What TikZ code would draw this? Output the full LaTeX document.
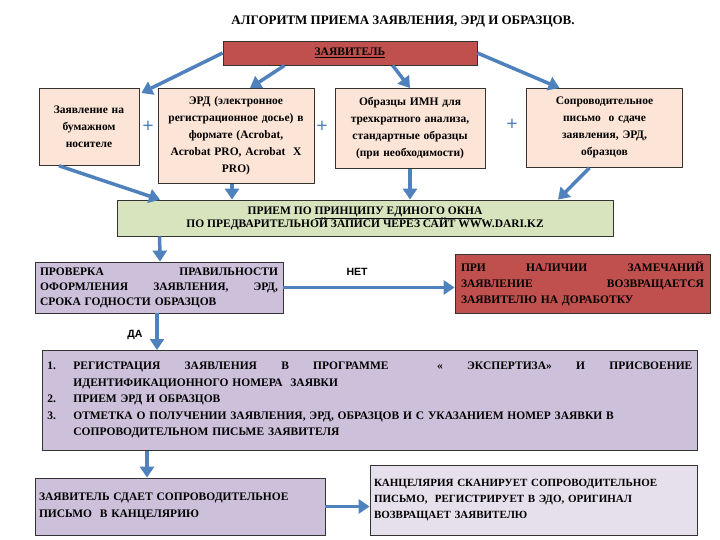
\documentclass[tikz,border=0pt]{standalone}
\usepackage{fontspec}
\setmainfont{Liberation Serif}
\newfontfamily\lsans{Liberation Sans}
\usetikzlibrary{arrows.meta}
\definecolor{redb}{HTML}{C0504D}
\definecolor{peach}{HTML}{FCE4D6}
\definecolor{greenb}{HTML}{D7E4BD}
\definecolor{lav}{HTML}{CCC0DA}
\definecolor{lav2}{HTML}{E6E0EC}
\definecolor{arr}{HTML}{4F81BD}
\begin{document}
\begin{tikzpicture}[x=1pt,y=-1pt,
 bx/.style={draw=black!80,line width=0.8pt,inner sep=3pt,font=\fontsize{11.5}{16}\selectfont\bfseries},
 pk/.style={bx,fill=peach,anchor=north,align=center,font=\fontsize{11.5}{17}\selectfont\bfseries},
 ar/.style={draw=arr,line width=3.5pt,-{Triangle[length=11pt,width=14pt]}},
 pl/.style={text=arr,font=\fontsize{20}{20}\selectfont\bfseries}]
\useasboundingbox (0,0) rectangle (720,540);
\node[font=\fontsize{13}{14}\selectfont\bfseries] (title) at (403,22) {АЛГОРИТМ ПРИЕМА ЗАЯВЛЕНИЯ, ЭРД И ОБРАЗЦОВ.};
\node[bx,fill=redb,minimum width=254pt,minimum height=24pt] (z) at (350,53) {\underline{ЗАЯВИТЕЛЬ}};
\node[pk,minimum width=98pt,minimum height=77pt,text width=94pt] (b1) at (89,88) {Заявление на\\бумажном\\носителе\\[12pt]};
\node[pk,minimum width=152pt,minimum height=95pt,text width=150pt] (b2) at (236,88) {ЭРД (электронное\\регистрационное досье) в\\формате (Acrobat,\\Acrobat PRO, Acrobat \ X\\PRO)};
\node[pk,minimum width=146pt,minimum height=80pt,text width=144pt] (b3) at (410,88) {Образцы ИМН для\\трехкратного анализа,\\стандартные образцы\\(при необходимости)};
\node[pk,minimum width=155pt,minimum height=79pt,text width=150pt] (b4) at (604.5,88) {Сопроводительное\\письмо \ о сдаче\\заявления, ЭРД,\\образцов};
\node[pl] (p1) at (148,127) {+};
\node[pl] (p2) at (322,127) {+};
\node[pl] (p3) at (512,125) {+};
\node[bx,fill=greenb,minimum width=496pt,minimum height=36pt,align=center] (g) at (365,218) {ПРИЕМ ПО \underline{ПРИНЦИПУ ЕДИНОГО ОКНА}\\[-3pt]ПО ПРЕДВАРИТЕЛЬНОЙ ЗАПИСИ ЧЕРЕЗ САЙТ WWW.DARI.KZ};
\node[bx,fill=lav,minimum width=248pt,minimum height=51pt,text width=238pt,align=left,font=\fontsize{11.5}{15}\selectfont\bfseries] (pr) at (159,287.5) {ПРОВЕРКА\hfill ПРАВИЛЬНОСТИ\\ОФОРМЛЕНИЯ\hfill ЗАЯВЛЕНИЯ,\hfill ЭРД,\\СРОКА ГОДНОСТИ ОБРАЗЦОВ};
\node[bx,fill=redb,minimum width=255pt,minimum height=59pt,text width=243pt,align=left,font=\fontsize{11.5}{16}\selectfont\bfseries] (rr) at (582.5,283.5) {ПРИ\hfill НАЛИЧИИ\hfill ЗАМЕЧАНИЙ\\ЗАЯВЛЕНИЕ\hfill ВОЗВРАЩАЕТСЯ\\ЗАЯВИТЕЛЮ НА ДОРАБОТКУ};
\node[font=\fontsize{10.5}{11}\selectfont\bfseries\lsans] (net) at (357,272) {НЕТ};
\node[font=\fontsize{10.5}{11}\selectfont\bfseries\lsans] (da) at (135,335) {ДА};
\node[bx,fill=lav,minimum width=655pt,minimum height=100pt,text width=645pt,align=left,anchor=north west,inner sep=5pt,font=\fontsize{11.5}{16.5}\selectfont\bfseries] (big) at (42,350) {%
\makebox[26pt][l]{1.}РЕГИСТРАЦИЯ\hfill ЗАЯВЛЕНИЯ\hfill В\hfill ПРОГРАММЕ\hfill\hfill «\hfill ЭКСПЕРТИЗА»\hfill И\hfill ПРИСВОЕНИЕ\\
\hspace*{26pt}ИДЕНТИФИКАЦИОННОГО НОМЕРА \ ЗАЯВКИ\\
\makebox[26pt][l]{2.}ПРИЕМ ЭРД И ОБРАЗЦОВ\\
\makebox[26pt][l]{3.}ОТМЕТКА О ПОЛУЧЕНИИ ЗАЯВЛЕНИЯ, ЭРД, ОБРАЗЦОВ И С УКАЗАНИЕМ НОМЕР ЗАЯВКИ В\\
\hspace*{26pt}СОПРОВОДИТЕЛЬНОМ ПИСЬМЕ ЗАЯВИТЕЛЯ};
\node[bx,fill=lav,minimum width=290pt,minimum height=57pt,text width=282pt,align=left,font=\fontsize{11.5}{17}\selectfont\bfseries] (bl) at (180,506.5) {ЗАЯВИТЕЛЬ СДАЕТ СОПРОВОДИТЕЛЬНОЕ\\ПИСЬМО \ В КАНЦЕЛЯРИЮ};
\node[bx,fill=lav2,minimum width=327pt,minimum height=70pt,text width=319pt,align=left,font=\fontsize{11}{16}\selectfont\bfseries] (br) at (533.5,500) {КАНЦЕЛЯРИЯ СКАНИРУЕТ СОПРОВОДИТЕЛЬНОЕ\\ПИСЬМО, \ РЕГИСТРИРУЕТ В ЭДО, ОРИГИНАЛ\\ВОЗВРАЩАЕТ ЗАЯВИТЕЛЮ};
\draw[ar] (z.west) -- ([xshift=2pt,yshift=-5pt]b1.north east);
\draw[ar] ([xshift=62pt]z.south west) -- ([xshift=14pt]b2.north);
\draw[ar] ([xshift=170pt]z.south west) -- (b3.north);
\draw[ar] (z.east) -- ([xshift=-45pt]b4.north);
\draw[ar] ([xshift=-30pt]b1.south) -- ([xshift=-205pt]g.north);
\draw[ar] ([xshift=-4pt]b2.south) -- ([xshift=-133pt]g.north);
\draw[ar] (b3.south) -- ([xshift=45pt]g.north);
\draw[ar] ([xshift=-15pt]b4.south) -- ([xshift=193pt]g.north);
\draw[ar] ([xshift=43pt]g.south west) -- ([xshift=1pt]pr.north);
\draw[ar] (pr.east) -- (rr.west |- pr.east);
\draw[ar] ([xshift=-2pt]pr.south) -- ([xshift=-2pt]pr.south |- big.north);
\draw[ar] ([xshift=105pt]big.south west) -- ([xshift=-33pt]bl.north);
\draw[ar] (bl.east) -- (br.west |- bl.east);
\end{tikzpicture}
\end{document}
